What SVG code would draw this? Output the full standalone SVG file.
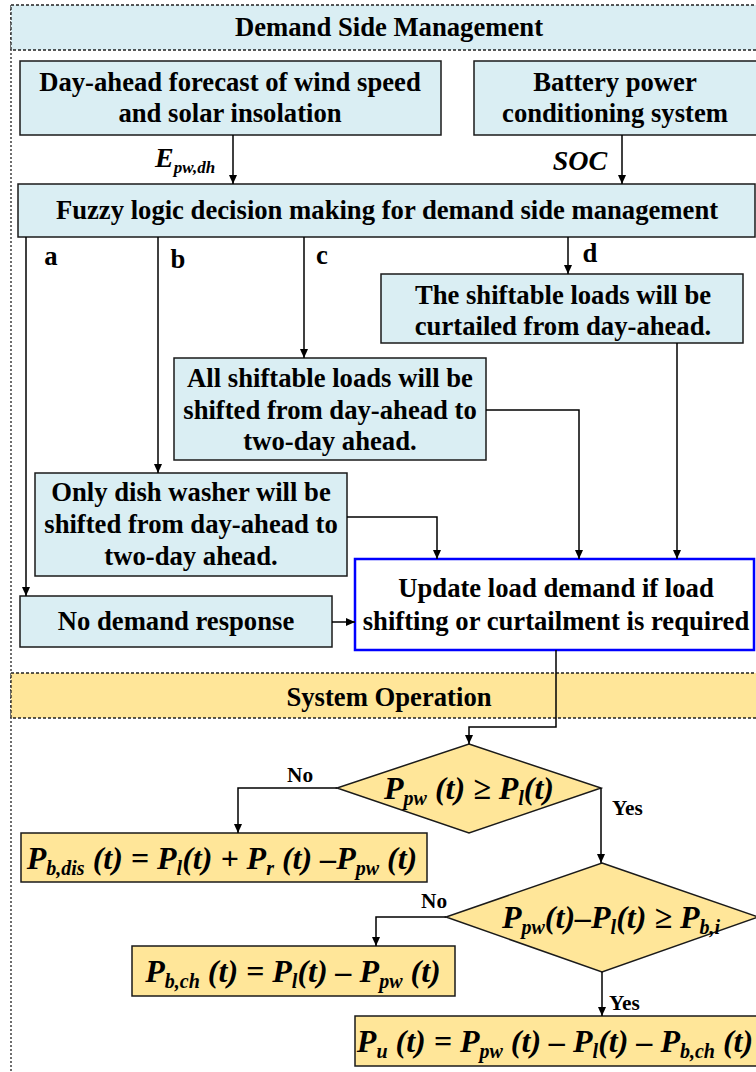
<svg xmlns="http://www.w3.org/2000/svg" width="756" height="1072" viewBox="0 0 756 1072">
<style>
.box{fill:#DAEEF3;stroke:#1a1a1a;stroke-width:1.5}
.obox{fill:#FFE699;stroke:#1a1a1a;stroke-width:1.5}
.band{stroke:#222;stroke-width:1.3;stroke-dasharray:3,2}
.t{font-family:"Liberation Serif","Times New Roman",serif;font-weight:bold;font-size:26.67px;text-anchor:middle;fill:#000}
.f{font-family:"Liberation Serif","Times New Roman",serif;font-weight:bold;font-style:italic;font-size:32px;text-anchor:middle;fill:#000}
.s{font-size:20px}
.lbl{font-family:"Liberation Serif","Times New Roman",serif;font-weight:bold;font-size:21.3px;fill:#000}
.conn{fill:none;stroke:#000;stroke-width:1.5;marker-end:url(#ah)}
</style>
<defs>
<marker id="ah" markerUnits="userSpaceOnUse" markerWidth="10" markerHeight="10" refX="9" refY="4" orient="auto">
<path d="M0,0 L9,4 L0,8 Z" fill="#000"/>
</marker>
</defs>
<rect width="756" height="1072" fill="#fff"/>

<g id="container">
<line x1="11" y1="5" x2="11" y2="1072" stroke="#222" stroke-width="1.3" stroke-dasharray="2,2"/>
</g>

<g id="band-dsm">
<rect x="11" y="5" width="760" height="45" fill="#DAEEF3" class="band"/>
<text class="t" x="389" y="36">Demand Side Management</text>
</g>

<g id="band-sysop">
<rect x="11" y="673" width="760" height="45" fill="#FFE699" class="band"/>
<text class="t" x="389" y="706">System Operation</text>
</g>

<g id="forecast">
<rect class="box" x="20" y="61" width="421" height="74"/>
<text class="t" x="230" y="91">Day-ahead forecast of wind speed</text>
<text class="t" x="230" y="122">and solar insolation</text>
</g>

<g id="battery">
<rect class="box" x="474" y="61" width="290" height="74"/>
<text class="t" x="615" y="91">Battery power</text>
<text class="t" x="615" y="122">conditioning system</text>
</g>

<g id="fuzzy">
<rect class="box" x="18" y="184" width="737" height="53"/>
<text class="t" x="387" y="219">Fuzzy logic decision making for demand side management</text>
</g>

<g id="curtail">
<rect class="box" x="381" y="274" width="362" height="69"/>
<text class="t" x="563" y="304">The shiftable loads will be</text>
<text class="t" x="563" y="335">curtailed from day-ahead.</text>
</g>

<g id="shift-all">
<rect class="box" x="174" y="358" width="312" height="102"/>
<text class="t" x="330" y="387">All shiftable loads will be</text>
<text class="t" x="330" y="419">shifted from day-ahead to</text>
<text class="t" x="330" y="450">two-day ahead.</text>
</g>

<g id="shift-dish">
<rect class="box" x="35" y="473" width="312" height="103"/>
<text class="t" x="191" y="501">Only dish washer will be</text>
<text class="t" x="191" y="533">shifted from day-ahead to</text>
<text class="t" x="191" y="565">two-day ahead.</text>
</g>

<g id="no-dr">
<rect class="box" x="20" y="596" width="312" height="51"/>
<text class="t" x="176" y="630">No demand response</text>
</g>

<g id="update">
<rect x="355" y="559" width="399" height="91" fill="#fff" stroke="#0000FF" stroke-width="2.5"/>
<text class="t" x="556" y="597">Update load demand if load</text>
<text class="t" x="556" y="630">shifting or curtailment is required</text>
</g>

<g id="dec1">
<polygon class="obox" points="469,744 601,788 469,833 337,788"/>
<text class="f" x="469" y="799">P<tspan class="s" dy="6">pw</tspan><tspan dy="-6"> (t) ≥ P</tspan><tspan class="s" dy="6">l</tspan><tspan dy="-6">(t)</tspan></text>
</g>

<g id="discharge">
<rect class="obox" x="21" y="833" width="406" height="49"/>
<text class="f" x="222" y="869">P<tspan class="s" dy="6">b,dis</tspan><tspan dy="-6"> (t) = P</tspan><tspan class="s" dy="6">l</tspan><tspan dy="-6">(t) + P</tspan><tspan class="s" dy="6">r</tspan><tspan dy="-6"> (t) –P</tspan><tspan class="s" dy="6">pw</tspan><tspan dy="-6"> (t)</tspan></text>
</g>

<g id="dec2">
<polygon class="obox" points="602,863 758,917 602,972 446,917"/>
<text class="f" x="611" y="928">P<tspan class="s" dy="6">pw</tspan><tspan dy="-6">(t)–P</tspan><tspan class="s" dy="6">l</tspan><tspan dy="-6">(t) ≥ P</tspan><tspan class="s" dy="6">b,i</tspan></text>
</g>

<g id="charge">
<rect class="obox" x="132" y="946" width="323" height="50"/>
<text class="f" x="293" y="982">P<tspan class="s" dy="6">b,ch</tspan><tspan dy="-6"> (t) = P</tspan><tspan class="s" dy="6">l</tspan><tspan dy="-6">(t) – P</tspan><tspan class="s" dy="6">pw</tspan><tspan dy="-6"> (t)</tspan></text>
</g>

<g id="surplus">
<rect class="obox" x="355" y="1016" width="402" height="50"/>
<text class="f" x="555" y="1052">P<tspan class="s" dy="6">u</tspan><tspan dy="-6"> (t) = P</tspan><tspan class="s" dy="6">pw</tspan><tspan dy="-6"> (t) – P</tspan><tspan class="s" dy="6">l</tspan><tspan dy="-6">(t) – P</tspan><tspan class="s" dy="6">b,ch</tspan><tspan dy="-6"> (t)</tspan></text>
</g>

<g id="connectors">
<path class="conn" d="M233,135 V184"/>
<path class="conn" d="M622,135 V184"/>
<path class="conn" d="M26,237 V596"/>
<path class="conn" d="M158,237 V473"/>
<path class="conn" d="M304,237 V358"/>
<path class="conn" d="M568,237 V274"/>
<path class="conn" d="M347,517 H437 V559"/>
<path class="conn" d="M486,410 H579 V559"/>
<path class="conn" d="M677,343 V559"/>
<path class="conn" d="M332,622 H355"/>
<path class="conn" d="M556,650 V727 H469 V744"/>
<path class="conn" d="M337,788 H238 V833"/>
<path class="conn" d="M601,788 V863"/>
<path class="conn" d="M446,917 H376 V946"/>
<path class="conn" d="M602,972 V1016"/>
<text class="f" x="155" y="167" style="text-anchor:start;font-size:28px">E<tspan class="s" style="font-size:17px" dy="6">pw,dh</tspan></text>
<text class="f" x="580" y="170" style="font-size:28px">SOC</text>
<text class="t" x="51" y="265">a</text>
<text class="t" x="178" y="268">b</text>
<text class="t" x="322" y="264">c</text>
<text class="t" x="590" y="262">d</text>
<text class="lbl" x="287" y="782">No</text>
<text class="lbl" x="612" y="815">Yes</text>
<text class="lbl" x="421" y="908">No</text>
<text class="lbl" x="609" y="1010">Yes</text>
</g>
</svg>
